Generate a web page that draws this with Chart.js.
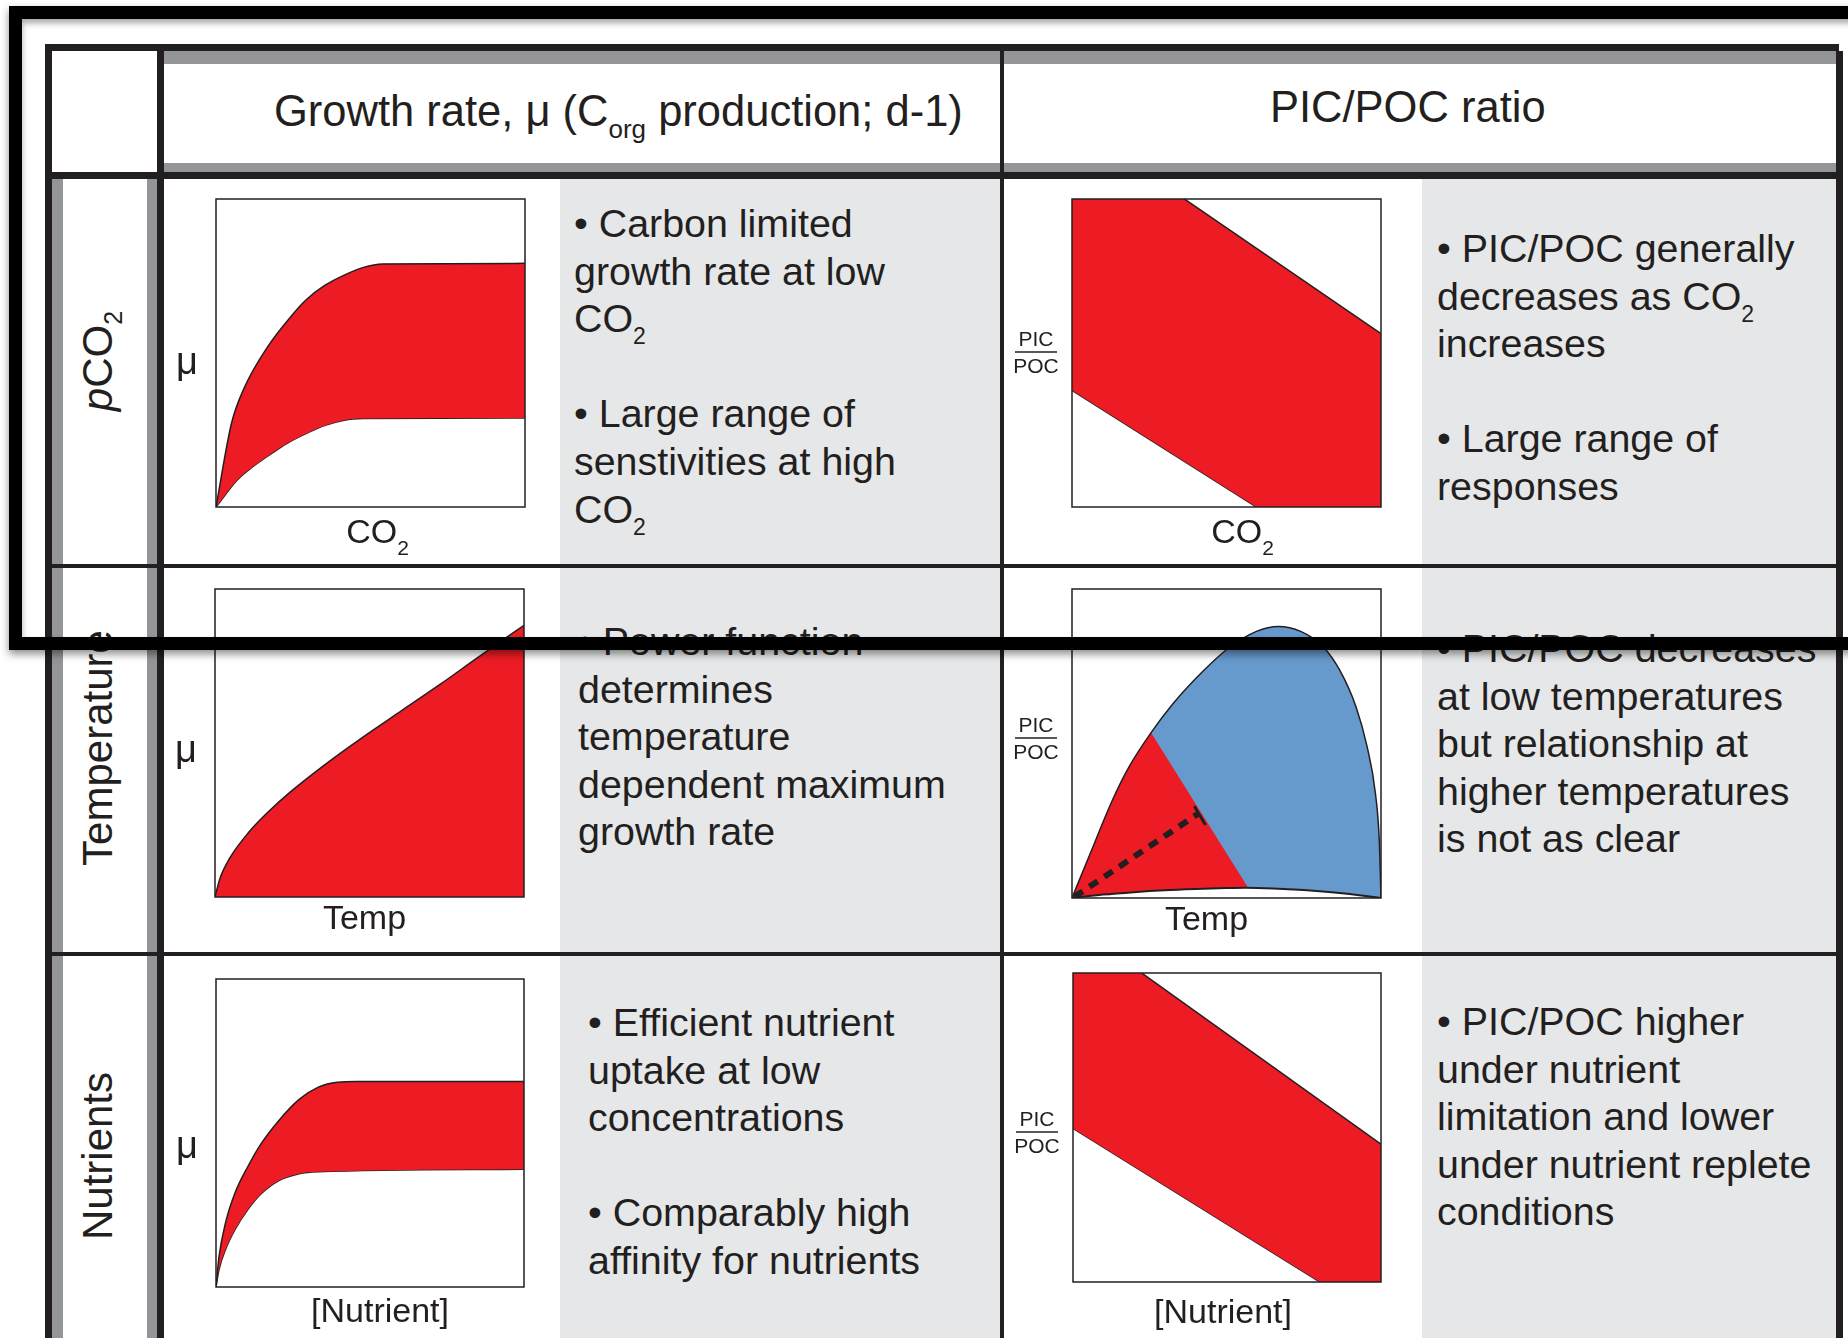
<!DOCTYPE html>
<html lang="en">
<head>
<meta charset="utf-8">
<title>Growth rate and PIC/POC responses to pCO2, temperature and nutrients</title>
<script src="https://cdn.jsdelivr.net/npm/chart.js@4.4.1/dist/chart.umd.min.js"></script>
<style>
  html, body { margin: 0; padding: 0; background: #fff; }
  #fig { position: relative; width: 1848px; height: 1338px; overflow: hidden;
         font-family: "Liberation Sans", Arial, Helvetica, sans-serif; color: #231f20; }
  .b { position: absolute; }
  .ink { background: #231f20; }
  .mid { background: #939598; }
  .pale { background: #e6e7e8; }
  .hd { position: absolute; font-size: 43.5px; line-height: 43.5px; white-space: nowrap; }
  .hd sub { font-size: 26px; line-height: 0; vertical-align: -12px; }
  .note { position: absolute; font-size: 39.4px; line-height: 47.6px; white-space: nowrap; }
  .note sub { font-size: 23px; line-height: 0; vertical-align: -12px; }
  .side { position: absolute; font-size: 42px; line-height: 42px; white-space: nowrap;
          transform: translate(-50%, -50%) rotate(-90deg); }
  .side sub { font-size: 25px; line-height: 0; vertical-align: -10px; }
  canvas.panel { position: absolute; }
  #frame { position: absolute; left: 9px; top: 6px; width: 1900px; height: 618px;
           border: 13px solid #000; z-index: 10;
           box-shadow: 0 4px 8px rgba(0,0,0,0.45), inset 0 4px 6px rgba(0,0,0,0.35); }
</style>
</head>
<body>
<div id="fig">
  <!-- shaded note columns -->
  <div class="b pale" style="left:560px;top:179px;width:440px;height:1159px"></div>
  <div class="b pale" style="left:1422px;top:179px;width:414px;height:1159px"></div>
  <!-- grey bands of the header row and of the side column -->
  <div class="b mid" style="left:164px;top:51px;width:1672px;height:13px"></div>
  <div class="b mid" style="left:164px;top:163px;width:1672px;height:9px"></div>
  <div class="b mid" style="left:52px;top:179px;width:11px;height:1159px"></div>
  <div class="b mid" style="left:147px;top:179px;width:10px;height:1159px"></div>
  <!-- table rules -->
  <div class="b ink" style="left:45px;top:44px;width:1794px;height:7px"></div>
  <div class="b ink" style="left:45px;top:44px;width:7px;height:1294px"></div>
  <div class="b ink" style="left:1836px;top:51px;width:7px;height:1287px"></div>
  <div class="b ink" style="left:45px;top:172px;width:1798px;height:7px"></div>
  <div class="b ink" style="left:157px;top:44px;width:7px;height:1294px"></div>
  <div class="b ink" style="left:1000px;top:51px;width:4px;height:1287px"></div>
  <div class="b ink" style="left:52px;top:564px;width:1784px;height:4px"></div>
  <div class="b ink" style="left:52px;top:952px;width:1784px;height:4px"></div>

  <!-- column headers -->
  <div class="hd" style="left:274px;top:90px">Growth rate, μ (C<sub>org</sub> production; d-1)</div>
  <div class="hd" style="left:1270px;top:86px">PIC/POC ratio</div>

  <!-- row headers -->
  <div class="side" style="left:98px;top:361px"><i>p</i>CO<sub>2</sub></div>
  <div class="side" style="left:98px;top:748px">Temperature</div>
  <div class="side" style="left:98px;top:1156px">Nutrients</div>

  <!-- notes -->
  <div class="note" style="left:574px;top:200px">• Carbon limited<br>growth rate at low<br>CO<sub>2</sub><br><br>• Large range of<br>senstivities at high<br>CO<sub>2</sub></div>
  <div class="note" style="left:1437px;top:225px">• PIC/POC generally<br>decreases as CO<sub>2</sub><br>increases<br><br>• Large range of<br>responses</div>
  <div class="note" style="left:578px;top:618px">• Power function<br>determines<br>temperature<br>dependent maximum<br>growth rate</div>
  <div class="note" style="left:1437px;top:625px">• PIC/POC decreases<br>at low temperatures<br>but relationship at<br>higher temperatures<br>is not as clear</div>
  <div class="note" style="left:588px;top:999px">• Efficient nutrient<br>uptake at low<br>concentrations<br><br>• Comparably high<br>affinity for nutrients</div>
  <div class="note" style="left:1437px;top:998px">• PIC/POC higher<br>under nutrient<br>limitation and lower<br>under nutrient replete<br>conditions</div>

  <canvas id="pCo2Mu" class="panel"></canvas>
  <canvas id="pTempMu" class="panel"></canvas>
  <canvas id="pNutMu" class="panel"></canvas>
  <canvas id="pCo2Ratio" class="panel"></canvas>
  <canvas id="pTempRatio" class="panel"></canvas>
  <canvas id="pNutRatio" class="panel"></canvas>

  <div id="frame"></div>
</div>

<script>
// ---- curve data (normalised: x and y run 0..1 across each panel) ----

// pCO2: growth-rate envelope
const co2MuUpperX = [0, 0.05, 0.093, 0.167, 0.242, 0.291, 0.353, 0.415, 0.477, 0.539, 1];
const co2MuUpperY = [0, 0.271, 0.39, 0.52, 0.618, 0.672, 0.72, 0.753, 0.778, 0.789, 0.791];
const co2MuLowerX = [0, 0.068, 0.118, 0.167, 0.229, 0.291, 0.353, 0.415, 0.477, 1];
const co2MuLowerY = [0, 0.087, 0.13, 0.165, 0.206, 0.238, 0.265, 0.282, 0.287, 0.289];

// pCO2: PIC/POC band (straight edges, clipped by the panel)
const co2RatioHighX = [0, 1];
const co2RatioHighY = [1.25, 0.563];
const co2RatioLowX = [0, 1];
const co2RatioLowY = [0.379, -0.256];

// Temperature: growth-rate curve
const tempMuX = [0, 0.016, 0.047, 0.109, 0.171, 0.245, 0.356, 0.48, 0.604, 0.728, 0.851, 1];
const tempMuY = [0, 0.06, 0.125, 0.21, 0.275, 0.342, 0.43, 0.52, 0.605, 0.69, 0.778, 0.882];

// Temperature: PIC/POC dome, its base, the low-temperature sector and trend
const tempDomeX = [0, 0.059, 0.131, 0.185, 0.256, 0.328, 0.418, 0.507, 0.597, 0.668, 0.74, 0.812, 0.866, 0.919, 0.955, 0.982, 0.995, 1];
const tempDomeY = [0, 0.144, 0.317, 0.425, 0.535, 0.63, 0.728, 0.809, 0.863, 0.879, 0.863, 0.814, 0.738, 0.619, 0.49, 0.338, 0.176, 0];
const tempBaseX = [0, 0.1, 0.2, 0.3, 0.4, 0.5, 0.56, 0.65, 0.75, 0.85, 0.93, 1];
const tempBaseY = [0, 0.011, 0.019, 0.025, 0.029, 0.032, 0.033, 0.031, 0.026, 0.018, 0.009, 0];
const tempColdX = [0, 0.03, 0.059, 0.095, 0.131, 0.158, 0.185, 0.22, 0.256, 0.57];
const tempColdY = [0, 0.074, 0.144, 0.233, 0.317, 0.373, 0.425, 0.482, 0.535, 0.033];
const tempTrendX = [0.008, 0.41];
const tempTrendY = [0.004, 0.274];
const tempCapX = [0.396, 0.432];
const tempCapY = [0.297, 0.236];

// Nutrients: growth-rate envelope
const nutMuUpperX = [0, 0.01, 0.031, 0.062, 0.104, 0.145, 0.207, 0.27, 0.332, 0.394, 0.456, 1];
const nutMuUpperY = [0, 0.1, 0.209, 0.306, 0.392, 0.463, 0.544, 0.609, 0.649, 0.665, 0.667, 0.667];
const nutMuLowerX = [0, 0.01, 0.031, 0.062, 0.104, 0.145, 0.207, 0.27, 0.332, 1];
const nutMuLowerY = [0, 0.057, 0.122, 0.187, 0.252, 0.301, 0.347, 0.368, 0.374, 0.382];

// Nutrients: PIC/POC band
const nutRatioHighX = [0, 1];
const nutRatioHighY = [1.159, 0.446];
const nutRatioLowX = [0, 1];
const nutRatioLowY = [0.497, -0.123];

// axis titles
const co2Title = [['CO'], ['2', 'sub']];
const tempTitle = [['Temp']];
const nutTitle = [['[Nutrient]']];
const muTitle = 'μ';
const ratioTitle = ['PIC', 'POC'];

// ---- drawing ----
const INK = '#231f20';
const RED = '#ed1c24';
const BLUE = '#6699cc';
const FONT = '"Liberation Sans", Arial, Helvetica, sans-serif';
const NONE = 'rgba(0,0,0,0)';

function pts(xs, ys) { return xs.map((x, i) => ({ x, y: ys[i] })); }

function drawRuns(ctx, runs, cx, baseline, size) {
  const subSize = size * 0.62;
  const widths = runs.map(r => {
    ctx.font = (r[1] === 'sub' ? subSize : size) + 'px ' + FONT;
    return ctx.measureText(r[0]).width;
  });
  let x = cx - widths.reduce((s, w) => s + w, 0) / 2;
  runs.forEach((r, i) => {
    const sub = r[1] === 'sub';
    ctx.font = (sub ? subSize : size) + 'px ' + FONT;
    ctx.fillText(r[0], x, baseline + (sub ? size * 0.35 : 0));
    x += widths[i];
  });
}

function makeDecor(cfg) {
  return {
    id: 'panelDecor',
    afterDatasetsDraw(chart) {
      const { ctx, chartArea: a } = chart;
      ctx.save();
      ctx.strokeStyle = INK;
      ctx.lineWidth = 1.5;
      ctx.strokeRect(a.left, a.top, a.right - a.left, a.bottom - a.top);
      ctx.fillStyle = INK;
      ctx.textBaseline = 'alphabetic';
      ctx.textAlign = 'left';
      drawRuns(ctx, cfg.xTitle, (a.left + a.right) / 2 + cfg.xDx, a.bottom + cfg.xDy, 34);
      if (cfg.mu) {
        ctx.font = '38px ' + FONT;
        ctx.textAlign = 'center';
        ctx.fillText(muTitle, a.left - 29, a.top + cfg.mu);
      } else {
        const cx = a.left - 36, ly = a.top + cfg.frac;
        ctx.font = '21px ' + FONT;
        ctx.textAlign = 'center';
        ctx.fillText(ratioTitle[0], cx, ly - 6);
        ctx.fillText(ratioTitle[1], cx, ly + 21);
        ctx.lineWidth = 1.5;
        ctx.beginPath();
        ctx.moveTo(cx - 21, ly);
        ctx.lineTo(cx + 21, ly);
        ctx.stroke();
      }
      ctx.restore();
    }
  };
}

function makePanel(id, box, datasets, decor) {
  const pad = { left: 80, top: 10, right: 20, bottom: 52 };
  const cv = document.getElementById(id);
  cv.width = box.w + pad.left + pad.right;
  cv.height = box.h + pad.top + pad.bottom;
  cv.style.left = (box.x - pad.left) + 'px';
  cv.style.top = (box.y - pad.top) + 'px';
  new Chart(cv, {
    type: 'line',
    data: { datasets },
    options: {
      responsive: false,
      animation: false,
      events: [],
      layout: { padding: pad, autoPadding: false },
      scales: {
        x: { type: 'linear', min: 0, max: 1, display: false },
        y: { type: 'linear', min: 0, max: 1, display: false }
      },
      elements: {
        point: { radius: 0, hoverRadius: 0 },
        line: { borderColor: INK, borderWidth: 1.5 }
      },
      plugins: { legend: { display: false }, tooltip: { enabled: false } }
    },
    plugins: [makeDecor(decor)]
  });
}

function envelope(ux, uy, lx, ly) {
  return [
    { data: pts(ux, uy), fill: '+1', backgroundColor: RED, borderColor: INK, borderWidth: 1.5, cubicInterpolationMode: 'monotone' },
    { data: pts(lx, ly), fill: false, borderColor: INK, borderWidth: 1.5, cubicInterpolationMode: 'monotone' }
  ];
}

function band(hx, hy, lx, ly) {
  return [
    { data: pts(hx, hy), fill: '+1', backgroundColor: RED, borderColor: INK, borderWidth: 1.5 },
    { data: pts(lx, ly), fill: false, borderColor: INK, borderWidth: 1.5 }
  ];
}

makePanel('pCo2Mu', { x: 216, y: 199, w: 309, h: 308 },
  envelope(co2MuUpperX, co2MuUpperY, co2MuLowerX, co2MuLowerY),
  { xTitle: co2Title, xDx: 7, xDy: 36, mu: 175 });

makePanel('pTempMu', { x: 215, y: 589, w: 309, h: 308 },
  [{ data: pts(tempMuX, tempMuY), fill: 'origin', backgroundColor: RED, borderColor: INK, borderWidth: 1.5, cubicInterpolationMode: 'monotone' }],
  { xTitle: tempTitle, xDx: -5, xDy: 32, mu: 173 });

makePanel('pNutMu', { x: 216, y: 979, w: 308, h: 308 },
  envelope(nutMuUpperX, nutMuUpperY, nutMuLowerX, nutMuLowerY),
  { xTitle: nutTitle, xDx: 10, xDy: 35, mu: 179 });

makePanel('pCo2Ratio', { x: 1072, y: 199, w: 309, h: 308 },
  band(co2RatioHighX, co2RatioHighY, co2RatioLowX, co2RatioLowY),
  { xTitle: co2Title, xDx: 16, xDy: 36, frac: 153 });

makePanel('pTempRatio', { x: 1072, y: 589, w: 309, h: 309 },
  [
    { data: pts(tempTrendX, tempTrendY), fill: false, borderColor: INK, borderWidth: 6, borderDash: [10, 8], borderCapStyle: 'butt' },
    { data: pts(tempCapX, tempCapY), fill: false, borderColor: INK, borderWidth: 3 },
    { data: pts(tempBaseX, tempBaseY), fill: false, borderColor: INK, borderWidth: 2, cubicInterpolationMode: 'monotone' },
    { data: pts(tempDomeX, tempDomeY), fill: false, borderColor: INK, borderWidth: 1.5, cubicInterpolationMode: 'monotone' },
    { data: pts(tempColdX, tempColdY), fill: 2, backgroundColor: RED, borderColor: NONE, borderWidth: 1 },
    { data: pts(tempDomeX, tempDomeY), fill: 2, backgroundColor: BLUE, borderColor: NONE, borderWidth: 1, cubicInterpolationMode: 'monotone' }
  ],
  { xTitle: tempTitle, xDx: -20, xDy: 32, frac: 149 });

makePanel('pNutRatio', { x: 1073, y: 973, w: 308, h: 309 },
  band(nutRatioHighX, nutRatioHighY, nutRatioLowX, nutRatioLowY),
  { xTitle: nutTitle, xDx: -4, xDy: 41, frac: 159 });
</script>
</body>
</html>
